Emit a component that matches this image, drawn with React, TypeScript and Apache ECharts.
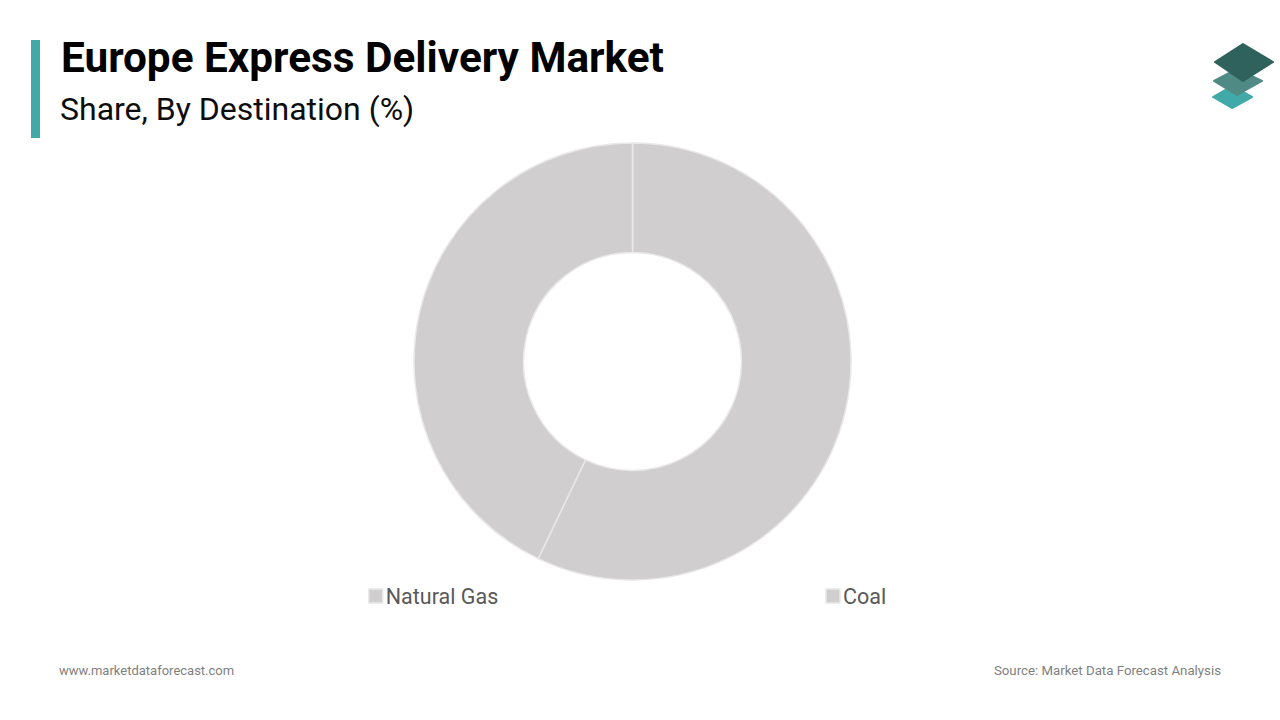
import React, { useEffect, useRef } from "react";
import * as echarts from "echarts";

const legendOrder = ["Natural Gas", "Coal"];
const categories = ["Coal", "Natural Gas"];
const shareValues = [57.1, 42.9];

const titleText = "Europe Express Delivery Market";
const subtitleText = "Share, By Destination (%)";
const siteText = "www.marketdataforecast.com";
const sourceText = "Source: Market Data Forecast Analysis";

const App = () => {
  const chartRef = useRef<HTMLDivElement>(null);

  useEffect(() => {
    if (!chartRef.current) return;
    const chart = echarts.init(chartRef.current, undefined, { renderer: "svg" });

    const option: echarts.EChartsOption = {
      animation: false,
      backgroundColor: "#ffffff",
      textStyle: { fontFamily: "Roboto" },
      legend: {
        data: legendOrder,
        left: 363,
        top: 580,
        icon: "rect",
        itemWidth: 14,
        itemHeight: 14,
        itemGap: 327,
        selectedMode: false,
        itemStyle: { borderColor: "#e9e8e8", borderWidth: 1.5 },
        textStyle: { fontFamily: "Roboto", fontSize: 21.5, color: "#595959", padding: [0, 0, 0, -2] },
      },
      series: [
        {
          type: "pie",
          center: [632.5, 361.5],
          radius: [109, 218.5],
          startAngle: 90,
          clockwise: true,
          label: { show: false },
          labelLine: { show: false },
          silent: true,
          itemStyle: { color: "#d0cece", borderColor: "#e9e8e8", borderWidth: 1.5 },
          data: categories.map((name, i) => ({ name, value: shareValues[i] })),
        },
      ],
      graphic: [
        { type: "rect", shape: { x: 31, y: 40, width: 9, height: 98 }, style: { fill: "#41a9a6" } },
        {
          type: "text",
          x: 61,
          y: 36,
          style: { text: titleText, font: "bold 42.3px Roboto", fill: "#000000" },
        },
        {
          type: "text",
          x: 60,
          y: 93,
          style: { text: subtitleText, font: "32px Roboto", fill: "#0d0d0d" },
        },
        {
          type: "text",
          x: 59,
          y: 664,
          style: { text: siteText, font: "13px Roboto", fill: "#7f7f7f" },
        },
        {
          type: "text",
          x: 1221,
          y: 664,
          style: { text: sourceText, font: "13.25px Roboto", fill: "#7f7f7f", textAlign: "right" },
        },
        // logo, three stacked diamonds
        {
          type: "polygon",
          shape: { points: [[1232, 86], [1252, 97], [1232, 108], [1213, 97]] },
          style: { fill: "#41aaa8", stroke: "#41aaa8", lineWidth: 2, lineJoin: "round" },
        },
        {
          type: "polygon",
          shape: { points: [[1237, 69], [1262, 81], [1237, 95], [1214, 81]] },
          style: { fill: "#4f8a85", stroke: "#4f8a85", lineWidth: 2, lineJoin: "round" },
        },
        {
          type: "polygon",
          shape: { points: [[1243, 44], [1273, 62], [1243, 81], [1215, 62]] },
          style: { fill: "#2f625d", stroke: "#2f625d", lineWidth: 2, lineJoin: "round" },
        },
      ],
    };

    chart.setOption(option);
    return () => chart.dispose();
  }, []);

  return <div ref={chartRef} style={{ position: "fixed", left: 0, top: 0, width: 1280, height: 720 }} />;
};

export default App;
